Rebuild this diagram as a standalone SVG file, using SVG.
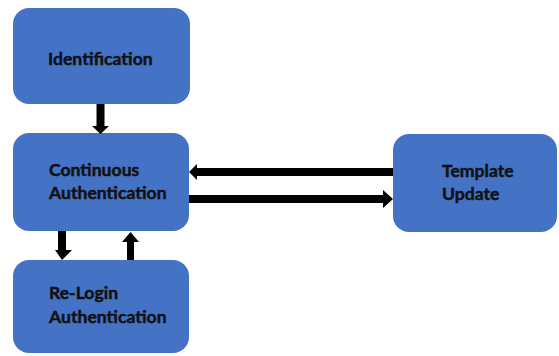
<svg xmlns="http://www.w3.org/2000/svg" width="559" height="356" viewBox="0 0 559 356">
<style>
.box{fill:#4472C4;}
.lbl{font-family:Lato,"Open Sans","Liberation Sans",sans-serif;font-weight:bold;font-size:17.6px;fill:#111;stroke:#111;stroke-width:0.45px;}
.arr{fill:#000;}
</style>
<rect width="559" height="356" fill="#fff"/>
<g id="identification">
<rect class="box" x="13" y="8" width="177" height="96" rx="16"/>
<text class="lbl" x="48" y="65">Identification</text>
</g>
<g id="continuous-authentication">
<rect class="box" x="13" y="133" width="176" height="98" rx="16"/>
<text class="lbl" x="49" y="176">Continuous</text>
<text class="lbl" x="49" y="199">Authentication</text>
</g>
<g id="relogin-authentication">
<rect class="box" x="13" y="260" width="176" height="93" rx="16"/>
<text class="lbl" x="49" y="299">Re-Login</text>
<text class="lbl" x="49" y="323">Authentication</text>
</g>
<g id="template-update">
<rect class="box" x="393" y="134" width="164" height="98" rx="16"/>
<text class="lbl" x="442" y="177">Template</text>
<text class="lbl" x="442" y="200">Update</text>
</g>
<g id="connectors">
<polygon class="arr" points="96.5,104 104.5,104 104.5,126 109,126 100.5,134 92,126 96.5,126"/>
<polygon class="arr" points="58,231 66,231 66,250 72,250 62,260 55,250 58,250"/>
<polygon class="arr" points="127,260 134,260 134,242 139,242 130.5,232 122,242 127,242"/>
<polygon class="arr" points="393,168 393,176 197,176 197,180 189,172 197,164 197,168"/>
<polygon class="arr" points="189,195 383,195 383,190 393,199 383,208 383,203 189,203"/>
</g>
</svg>
